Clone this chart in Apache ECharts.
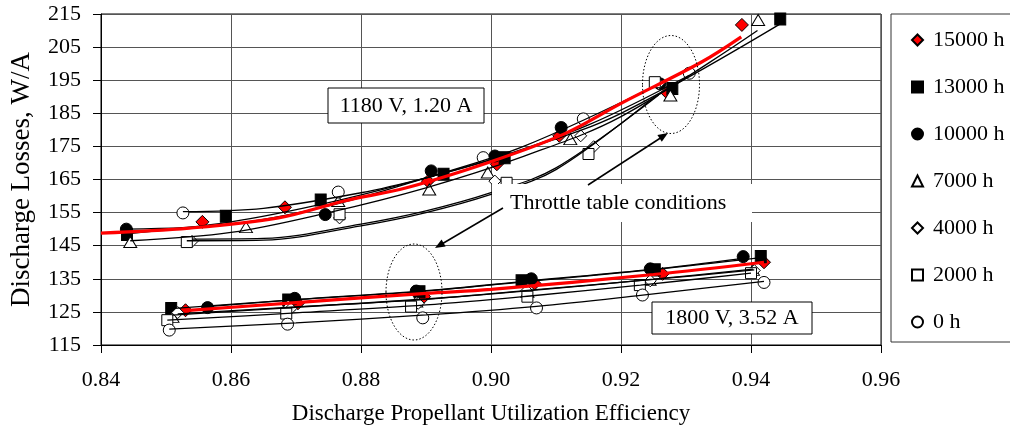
<!DOCTYPE html>
<html><head><meta charset="utf-8">
<script src="https://cdn.jsdelivr.net/npm/echarts@6/dist/echarts.min.js"></script>
<style>html,body{margin:0;padding:0;background:#fff}#c{width:1010px;height:431px}</style>
</head><body><div id="c"></div>
<script>
// ---- Data ----
const seriesNames = ['15000 h', '13000 h', '10000 h', '7000 h', '4000 h', '2000 h', '0 h'];
const yTickValues = [115, 125, 135, 145, 155, 165, 175, 185, 195, 205, 215];

// measured points [efficiency, losses]  (upper: 1180 V / 1.20 A, lower: 1800 V / 3.52 A)
const up15000 = [[0.8556,152.2],[0.8683,156.6],[0.8903,164.5],[0.9009,169.6],[0.9105,178.2],[0.9271,191.2],[0.9386,211.7]];
const lo15000 = [[0.8530,125.5],[0.8703,127.6],[0.8897,129.6],[0.9067,133.6],[0.9264,136.5],[0.9420,140.0]];
const up13000 = [[0.8440,148.4],[0.8592,153.9],[0.8738,158.8],[0.8927,166.6],[0.9021,171.6],[0.9279,192.5],[0.9445,213.5]];
const lo13000 = [[0.8508,126.0],[0.8688,128.6],[0.8890,131.1],[0.9047,134.4],[0.9252,137.7],[0.9415,141.7]];
const up10000 = [[0.8439,150.0],[0.8745,154.4],[0.8908,167.6],[0.9006,172.1],[0.9108,180.7],[0.9260,193.9]];
const lo10000 = [[0.8564,126.3],[0.8698,129.1],[0.8885,131.3],[0.9062,135.0],[0.9245,138.0],[0.9388,141.7]];
const up7000  = [[0.8445,146.1],[0.8623,150.6],[0.8765,158.5],[0.8905,162.0],[0.8995,167.1],[0.9122,177.2],[0.9276,190.4],[0.9411,213.2]];
const lo7000  = [[0.8510,123.5],[0.8688,127.2],[0.8885,128.1],[0.9056,131.1],[0.9244,134.7],[0.9403,137.7]];
const up4000  = [[0.8540,146.3],[0.8767,153.4],[0.9006,164.5],[0.9138,178.2],[0.9158,174.9],[0.9258,194.0]];
const lo4000  = [[0.8518,124.8],[0.8692,126.0],[0.8888,127.6],[0.9055,131.4],[0.9245,134.4],[0.9405,137.5]];
const up2000  = [[0.8532,146.1],[0.8767,154.5],[0.9024,164.0],[0.9150,172.7],[0.9252,194.4]];
const lo2000  = [[0.8502,122.5],[0.8685,124.5],[0.8877,126.6],[0.9056,129.6],[0.9229,133.1],[0.9400,136.7]];
const up0     = [[0.8526,154.9],[0.8765,161.2],[0.8988,171.6],[0.9142,183.3],[0.9305,197.1]];
const lo0     = [[0.8505,119.5],[0.8687,121.3],[0.8895,123.2],[0.9070,126.2],[0.9233,130.1],[0.9420,133.9]];

// trend lines
const tu15000 = [[0.8400,148.8],[0.8536,150.3],[0.8673,153.4],[0.8774,158.5],[0.8870,162.5],[0.9003,170.6],[0.9112,178.7],[0.9203,188.3],[0.9324,200.5],[0.9385,208.1]];
const tl15000 = [[0.8530,125.4],[0.8700,127.8],[0.8900,130.6],[0.9000,131.8],[0.9250,136.3],[0.9420,140.0]];
const tu13000 = [[0.8440,148.6],[0.8600,152.2],[0.8750,158.0],[0.8900,165.5],[0.9050,174.0],[0.9200,185.0],[0.9445,212.0]];
const tl13000 = [[0.8508,126.0],[0.8700,128.7],[0.8900,131.3],[0.9050,134.1],[0.9250,137.8],[0.9415,141.4]];
const tu10000 = [[0.8440,150.0],[0.8600,151.5],[0.8750,157.0],[0.8900,165.5],[0.9050,175.0],[0.9260,194.0]];
const tl10000 = [[0.8564,126.6],[0.8700,128.7],[0.8900,131.4],[0.9060,134.4],[0.9250,137.9],[0.9388,141.2]];
const tu7000  = [[0.8445,146.5],[0.8600,149.0],[0.8750,155.0],[0.8900,162.5],[0.9050,172.0],[0.9200,184.0],[0.9410,210.0]];
const tl7000  = [[0.8510,124.0],[0.8700,126.4],[0.8900,128.9],[0.9060,131.4],[0.9250,134.9],[0.9403,137.9]];
const tu4000  = [[0.8540,147.0],[0.8650,147.2],[0.8800,151.5],[0.8900,155.5],[0.9000,161.0],[0.9100,168.5],[0.9258,190.5]];
const tl4000  = [[0.8518,124.4],[0.8700,126.5],[0.8900,128.8],[0.9060,131.6],[0.9250,134.8],[0.9405,137.7]];
const tu2000  = [[0.8532,146.5],[0.8650,146.7],[0.8800,151.0],[0.8900,155.0],[0.9000,160.5],[0.9100,168.0],[0.9252,190.0]];
const tl2000  = [[0.8502,122.5],[0.8700,124.7],[0.8900,127.1],[0.9060,129.8],[0.9230,133.1],[0.9400,136.7]];
const tu0     = [[0.8526,155.3],[0.8650,156.3],[0.8800,161.0],[0.8900,165.5],[0.9000,171.0],[0.9150,181.5],[0.9305,196.5]];
const tl0     = [[0.8505,119.8],[0.8700,121.7],[0.8900,124.1],[0.9070,126.7],[0.9230,130.0],[0.9420,134.2]];

// ---- Chart ----
const FONT = 'Liberation Serif';
const groups = [
  {pts: up15000.concat(lo15000), trends: [tu15000, tl15000], symbol: 'diamond', size: [13, 13], fill: '#ff0000', lineColor: '#ff0000', lineWidth: 3.2},
  {pts: up13000.concat(lo13000), trends: [tu13000, tl13000], symbol: 'rect', size: [11, 12], fill: '#000000', lineColor: '#000', lineWidth: 1.3},
  {pts: up10000.concat(lo10000), trends: [tu10000, tl10000], symbol: 'circle', size: [12, 12], fill: '#000000', lineColor: '#000', lineWidth: 1.3},
  {pts: up7000.concat(lo7000),   trends: [tu7000, tl7000],   symbol: 'triangle', size: [13, 11], fill: '#ffffff', lineColor: '#000', lineWidth: 1.3},
  {pts: up4000.concat(lo4000),   trends: [tu4000, tl4000],   symbol: 'diamond', size: [12, 12], fill: '#ffffff', lineColor: '#000', lineWidth: 1.3},
  {pts: up2000.concat(lo2000),   trends: [tu2000, tl2000],   symbol: 'rect', size: [11, 11], fill: '#ffffff', lineColor: '#000', lineWidth: 1.3},
  {pts: up0.concat(lo0),         trends: [tu0, tl0],         symbol: 'circle', size: [12, 12], fill: '#ffffff', lineColor: '#000', lineWidth: 1.3}
];

const series = [];
groups.forEach((g, i) => {
  series.push({
    name: seriesNames[i], type: 'scatter', data: g.pts,
    symbol: g.symbol, symbolSize: g.size, z: 2,
    itemStyle: {color: g.fill, borderColor: '#000', borderWidth: 1, opacity: 1},
    emphasis: {disabled: true}
  });
});
// black trend lines first, red on top
[1,2,3,4,5,6,0].forEach(i => {
  const g = groups[i];
  g.trends.forEach(t => {
    series.push({
      type: 'line', data: t, smooth: 0.35, showSymbol: false, silent: true,
      z: i === 0 ? 4 : 3,
      lineStyle: {color: g.lineColor, width: g.lineWidth}
    });
  });
});

const chart = echarts.init(document.getElementById('c'), null, {renderer: 'canvas'});
chart.setOption({
  animation: false,
  backgroundColor: '#ffffff',
  grid: {left: 90, right: 129, top: 14, bottom: 86, show: true, borderColor: '#000', borderWidth: 1},
  legend: {
    data: seriesNames, orient: 'vertical', left: 911, top: 29,
    itemWidth: 11, itemHeight: 11, itemGap: 25, padding: 0,
    textStyle: {fontFamily: FONT, fontSize: 22, color: '#000', lineHeight: 22, padding: [0, 0, 0, 5]},
    selectedMode: false
  },
  xAxis: {
    type: 'value', min: 0.84, max: 0.96, interval: 0.02,
    name: 'Discharge Propellant Utilization Efficiency', nameLocation: 'middle', nameGap: 57,
    nameTextStyle: {fontFamily: FONT, fontSize: 23, color: '#000'},
    axisLine: {show: true, lineStyle: {color: '#000', width: 1}},
    axisTick: {show: true, length: 8, lineStyle: {color: '#000'}},
    axisLabel: {fontFamily: FONT, fontSize: 22, color: '#000', margin: 24, formatter: v => v.toFixed(2)},
    splitLine: {show: true, lineStyle: {color: '#555', width: 1}}
  },
  yAxis: {
    type: 'value', min: 115, max: 215,
    name: 'Discharge Losses, W/A', nameLocation: 'middle', nameGap: 66, nameRotate: 90,
    nameTextStyle: {fontFamily: FONT, fontSize: 27, color: '#000'},
    axisLine: {show: true, lineStyle: {color: '#000', width: 1}},
    axisTick: {show: true, length: 8, lineStyle: {color: '#000'}, customValues: yTickValues},
    axisLabel: {fontFamily: FONT, fontSize: 22, color: '#000', margin: 20, customValues: yTickValues},
    splitLine: {show: true, lineStyle: {color: '#555', width: 1}}
  },
  series: series,
  graphic: [
    // legend frame
    {type: 'rect', shape: {x: 891, y: 14, width: 140, height: 328}, style: {fill: 'none', stroke: '#333', lineWidth: 1}, z: 10},
    // dotted ellipses
    {type: 'ellipse', shape: {cx: 671, cy: 84.5, rx: 28.5, ry: 49}, style: {fill: 'none', stroke: '#000', lineWidth: 1, lineDash: [1.5, 2]}, z: 20},
    {type: 'ellipse', shape: {cx: 414, cy: 292, rx: 28, ry: 48}, style: {fill: 'none', stroke: '#000', lineWidth: 1, lineDash: [1.5, 2]}, z: 20},
    // throttle label
    {type: 'rect', shape: {x: 492, y: 184, width: 260, height: 38}, style: {fill: '#fff', stroke: null}, z: 20},
    {type: 'text', x: 510, y: 203, style: {text: 'Throttle table conditions', font: '22px "Liberation Serif"', fill: '#000', verticalAlign: 'middle', align: 'left'}, z: 21},
    // arrows
    {type: 'line', shape: {x1: 588, y1: 185, x2: 662, y2: 137}, style: {stroke: '#000', lineWidth: 1.5}, z: 21},
    {type: 'polygon', shape: {points: [[668, 133], [661.8, 141.8], [657.4, 135.1]]}, style: {fill: '#000'}, z: 21},
    {type: 'line', shape: {x1: 503, y1: 208, x2: 441, y2: 244.5}, style: {stroke: '#000', lineWidth: 1.5}, z: 21},
    {type: 'polygon', shape: {points: [[435, 248], [445.6, 246.4], [441.6, 239.5]]}, style: {fill: '#000'}, z: 21},
    // condition boxes
    {type: 'rect', shape: {x: 328, y: 88, width: 156, height: 35}, style: {fill: '#fff', stroke: '#000', lineWidth: 1}, z: 22},
    {type: 'text', x: 406, y: 106, style: {text: '1180 V, 1.20 A', font: '22px "Liberation Serif"', fill: '#000', align: 'center', verticalAlign: 'middle'}, z: 23},
    {type: 'rect', shape: {x: 652, y: 302, width: 160, height: 32}, style: {fill: '#fff', stroke: '#000', lineWidth: 1}, z: 22},
    {type: 'text', x: 732, y: 318, style: {text: '1800 V, 3.52 A', font: '22px "Liberation Serif"', fill: '#000', align: 'center', verticalAlign: 'middle'}, z: 23}
  ]
});
</script>
</body></html>
